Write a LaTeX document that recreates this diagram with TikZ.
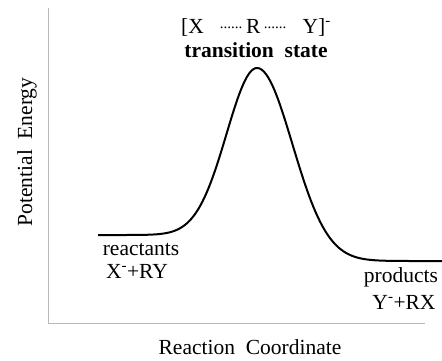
\documentclass[tikz,border=0pt]{standalone}
\usepackage{fontspec}
\setmainfont{Liberation Serif}
\usetikzlibrary{positioning}

\newcommand{\dotrun}{\raisebox{0.22em}{\fontsize{15}{15}\selectfont......}}
\newcommand{\ionminus}{\textsuperscript{-}}

\begin{document}
\begin{tikzpicture}[
    x=1pt, y=-1pt,
    axis/.style={draw=gray!55, line width=0.8pt},
    curve/.style={line width=2pt, line join=round},
    lbl/.style={font=\fontsize{21.5}{23}\selectfont, inner sep=0pt, anchor=base},
    blbl/.style={lbl, font=\fontsize{21.5}{23}\selectfont\bfseries}
]
\useasboundingbox (0,0) rectangle (442,360);
% Axes
\coordinate (ytop) at (48,8);
\coordinate (orig) at (48,323);
\coordinate (xend) at (425,323);
\draw[axis] (ytop) -- (orig) -- (xend);
\node[lbl, rotate=90] (ylab) at (32,152) {Potential\ \ Energy};
\node[lbl] (xlab) at (250,354) {Reaction\ \ Coordinate};
% Energy profile
\draw[curve] plot[domain=98:257, samples=80] (\x, {235-167*exp(-((\x-257)/43)^2)})
    -- plot[domain=257:442, samples=80] (\x, {261-193*exp(-((\x-257)/50)^2)});
% Transition state
\node[lbl] (ts) at (256,33) {[X\ \ \ \dotrun\,R\,\dotrun\ \ \ Y]\ionminus};
\node[blbl] (tslab) at (256,57) {transition\ \ state};
% Reactants
\node[lbl] (react) at (141,255) {reactants};
\node[lbl] (rform) at (137,278) {X\ionminus+RY};
% Products
\node[lbl] (prod) at (401,282) {products};
\node[lbl] (pform) at (404,309) {Y\ionminus+RX};
\end{tikzpicture}
\end{document}
